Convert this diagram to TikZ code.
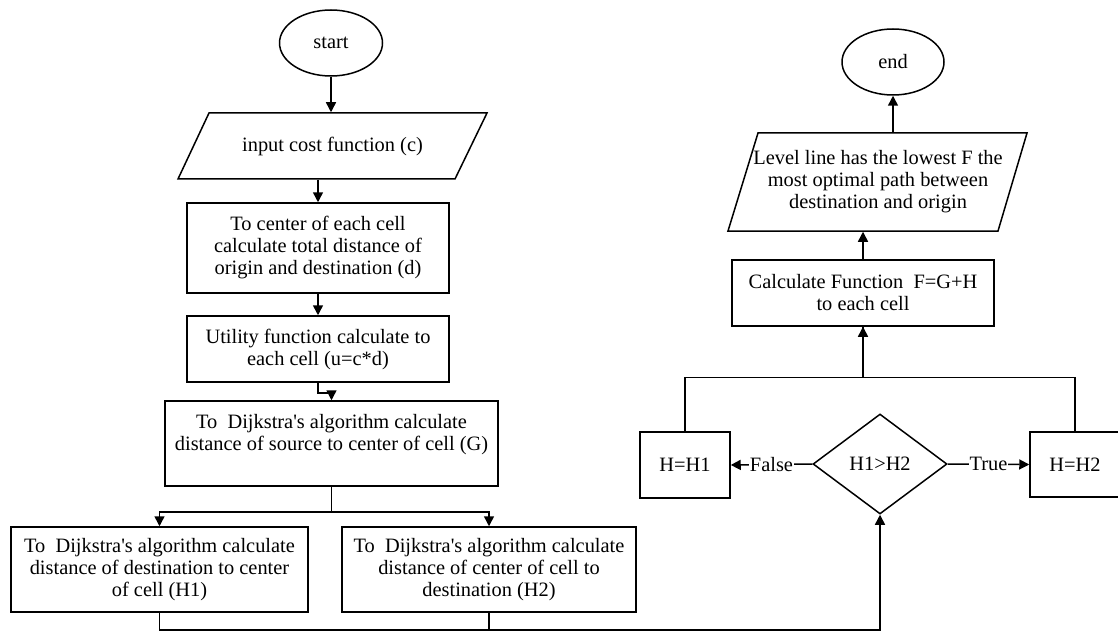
\documentclass[tikz,border=0pt]{standalone}
\usepackage{fontspec}
\setmainfont{Liberation Serif}
\newfontfamily\plainserif{Liberation Serif}
\usetikzlibrary{shapes.geometric,arrows.meta,calc}
\begin{document}
\begin{tikzpicture}[x=1pt,y=-1pt,
  every node/.style={font=\plainserif\fontsize{20.4}{22}\selectfont, align=center, inner sep=0pt},
  line width=1.5pt,
  arr/.style={-{Triangle[length=10pt,width=10pt]}},
  box/.style={draw, rectangle},
  term/.style={draw, ellipse},
  dec/.style={draw, diamond},
  lbl/.style={fill=white, inner sep=1pt}
]
\useasboundingbox (0,0) rectangle (1118,631);
% left column
\node[term, minimum width=103pt, minimum height=66pt] (st) at (331,43) {start};
\node[minimum height=66pt] (inp) at (332.5,146) {input cost function (c)};
\draw (209,113) -- (487,113) -- (455,179) -- (178,179) -- cycle;
\node[box, minimum width=262pt, minimum height=90pt] (b2) at (318,248)
  {To center of each cell\\calculate total distance of\\origin and destination (d)};
\node[box, minimum width=262pt, minimum height=66pt] (b3) at (318,349)
  {Utility function calculate to\\each cell (u=c*d)};
\node[box, minimum width=333pt, minimum height=85pt] (b4) at (331.5,443.5)
  {To\ \ Dijkstra's algorithm calculate\\distance of source to center of cell (G)\\\mbox{}};
\node[box, minimum width=297pt, minimum height=85pt] (h1) at (159.5,569.5)
  {To\ \ Dijkstra's algorithm calculate\\distance of destination to center\\of cell (H1)};
\node[box, minimum width=294pt, minimum height=85pt] (h2) at (489,569.5)
  {To\ \ Dijkstra's algorithm calculate\\distance of center of cell to\\destination (H2)};
% right column
\node[term, minimum width=102pt, minimum height=66pt] (en) at (893,62) {end};
\node[minimum height=98pt] (lvl) at (878,182)
  {Level line has the lowest F the\\most optimal path between\\destination and origin};
\draw (758,133) -- (1027,133) -- (998,231) -- (728,231) -- cycle;
\node[box, minimum width=262pt, minimum height=66pt] (calc) at (863,293)
  {Calculate Function\ \ F=G+H\\to each cell};
\node[dec, minimum width=134pt, minimum height=100pt] (dia) at (880,464) {H1>H2};
\node[box, minimum width=90pt, minimum height=66pt] (hh1) at (685,465) {H=H1};
\node[box, minimum width=90pt, minimum height=65pt] (hh2) at (1075,464.5) {H=H2};
% connectors
\draw[arr] (st.south) -- (st.south |- inp.north);
\draw[arr] (inp.south -| b2.north) -- (b2.north);
\draw[arr] (b2.south) -- (b3.north);
\draw[arr] (b3.south) -- ++(0,10) -| (b4.north);
\draw[arr] (b4.south) -- ++(0,25) -| (h1.north);
\draw[arr] (b4.south) -- ++(0,25) -| (h2.north);
\draw[arr] (h1.south) -- ++(0,17) -| (dia.south);
\draw (h2.south) -- ++(0,17);
\draw[arr] (dia.west) -- node[lbl] {False} (hh1.east);
\draw[arr] (dia.east) -- node[lbl] {True} (hh2.west);
\draw[arr] (hh1.north) -- ++(0,-54) -| (calc.south);
\draw (hh2.north) -- ++(0,-54) -| (calc.south);
\draw[arr] (calc.north) -- (calc.north |- lvl.south);
\draw[arr] (en.south |- lvl.north) -- (en.south);
\end{tikzpicture}
\end{document}
